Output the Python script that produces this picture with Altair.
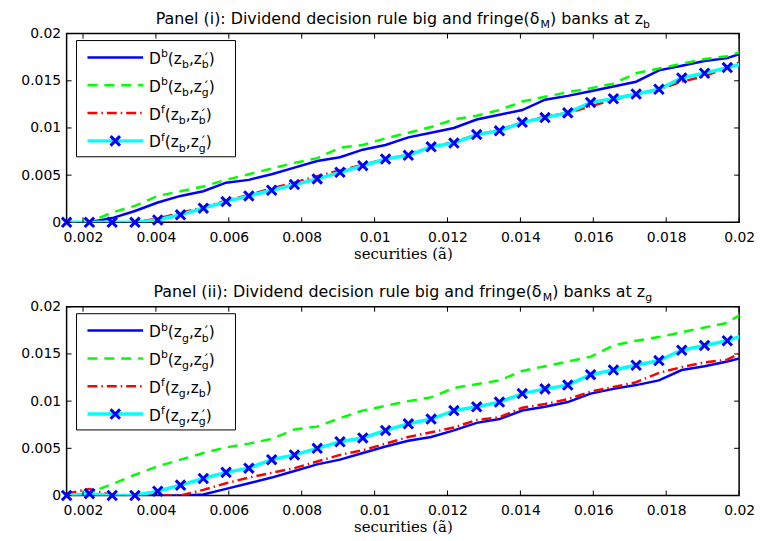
import altair as alt
import pandas as pd

# ---------------- data ----------------
X = [0.00155, 0.002175, 0.0028, 0.003425, 0.00405, 0.004675, 0.0053, 0.005925,
     0.00655, 0.007175, 0.0078, 0.008425, 0.00905, 0.009675, 0.0103, 0.010925,
     0.01155, 0.012175, 0.0128, 0.013425, 0.01405, 0.014675, 0.0153, 0.015925,
     0.01655, 0.017175, 0.0178, 0.018425, 0.01905, 0.019675, 0.0203]

# Panel (i): z_b
P1_DB_B = [0, 0, 0.00045, 0.0012, 0.0021, 0.0028, 0.0033, 0.0042, 0.0045, 0.0051,
           0.0058, 0.0065, 0.0069, 0.0077, 0.0082, 0.0090, 0.0095, 0.0100, 0.0109,
           0.0114, 0.0119, 0.0130, 0.0134, 0.0139, 0.0144, 0.0149, 0.0161, 0.0166,
           0.0171, 0.0174, 0.0182]
P1_DB_G = [0, 0, 0.00105, 0.00175, 0.0028, 0.0033, 0.0038, 0.0045, 0.0051, 0.0057,
           0.0063, 0.0068, 0.0079, 0.0082, 0.0089, 0.0095, 0.0101, 0.0109, 0.0113,
           0.0119, 0.0128, 0.0133, 0.0138, 0.0142, 0.0147, 0.0158, 0.0163, 0.0168,
           0.0173, 0.0176, 0.0184]
P1_DF_B = [0, 0, 0, 0, 0.0004, 0.0010, 0.0016, 0.0023, 0.0029, 0.0036, 0.0042,
           0.0049, 0.0055, 0.0061, 0.0067, 0.0072, 0.0080, 0.0085, 0.0093, 0.0098,
           0.0106, 0.0112, 0.0116, 0.0123, 0.0130, 0.0135, 0.0141, 0.0149, 0.0155,
           0.0164, 0.0174]
P1_DF_G = [0, 0, 0, 0, 0.00025, 0.0008, 0.0015, 0.0022, 0.0028, 0.0034, 0.0040,
           0.0046, 0.0053, 0.0060, 0.0067, 0.0071, 0.0080, 0.0084, 0.0093, 0.0097,
           0.0106, 0.0111, 0.0116, 0.0127, 0.0131, 0.0136, 0.0141, 0.0153, 0.0158,
           0.0164, 0.0170]

# Panel (ii): z_g
P2_DB_B = [0, 0, 0, 0, 0, 0, 0.0001, 0.0007, 0.0013, 0.0019, 0.0026, 0.0033,
           0.0038, 0.0045, 0.0052, 0.0058, 0.0062, 0.0069, 0.0077, 0.0081, 0.0090,
           0.0094, 0.0099, 0.0108, 0.0113, 0.0117, 0.0122, 0.0133, 0.0137, 0.0142,
           0.0148]
P2_DB_G = [0, 0.0003, 0.0012, 0.0022, 0.0031, 0.0038, 0.0045, 0.0051, 0.0055,
           0.0060, 0.0070, 0.0073, 0.0082, 0.0090, 0.0095, 0.0100, 0.0104, 0.0114,
           0.0118, 0.0122, 0.0132, 0.0137, 0.0142, 0.0147, 0.0159, 0.0164, 0.0168,
           0.0173, 0.0178, 0.0183, 0.0198]
P2_DF_B = [0.0002, 0.0007, 0, 0, 0, 0, 0.0006, 0.0013, 0.0019, 0.0024, 0.0029,
           0.0036, 0.0043, 0.0048, 0.0055, 0.0062, 0.0067, 0.0072, 0.0080, 0.0083,
           0.0093, 0.0097, 0.0102, 0.0110, 0.0115, 0.0120, 0.0130, 0.0136, 0.0141,
           0.0144, 0.0156]
P2_DF_G = [0, 0.0002, 0, 0, 0.00045, 0.0011, 0.0018, 0.00245, 0.0029, 0.0038,
           0.0043, 0.0050, 0.0057, 0.0061, 0.0069, 0.0076, 0.0081, 0.0090, 0.0094,
           0.0099, 0.0108, 0.0113, 0.0117, 0.0128, 0.0133, 0.0138, 0.0143, 0.0154,
           0.0159, 0.0164, 0.0172]

X_TICKS = [0.002, 0.004, 0.006, 0.008, 0.01, 0.012, 0.014, 0.016, 0.018, 0.02]
Y_TICKS = [0, 0.005, 0.01, 0.015, 0.02]
X_MIN, X_MAX = 0.00155, 0.02

SERIES = ["dbb", "dbg", "dfb", "dfg"]

TITLE1 = [("Panel (i): Dividend decision rule big and fringe(δ", "n"), ("M", "sub"),
          (") banks at z", "n"), ("b", "sub")]
TITLE2 = [("Panel (ii): Dividend decision rule big and fringe(δ", "n"), ("M", "sub"),
          (") banks at z", "n"), ("g", "sub")]

LEG1 = [
    [("D", "n"), ("b", "sup"), ("(z", "n"), ("b", "sub"), (",z", "n"), ("", "pr"), ("b", "sub"), (")", "n")],
    [("D", "n"), ("b", "sup"), ("(z", "n"), ("b", "sub"), (",z", "n"), ("", "pr"), ("g", "sub"), (")", "n")],
    [("D", "n"), ("f", "sup"), ("(z", "n"), ("b", "sub"), (",z", "n"), ("", "pr"), ("b", "sub"), (")", "n")],
    [("D", "n"), ("f", "sup"), ("(z", "n"), ("b", "sub"), (",z", "n"), ("", "pr"), ("g", "sub"), (")", "n")],
]
LEG2 = [
    [("D", "n"), ("b", "sup"), ("(z", "n"), ("g", "sub"), (",z", "n"), ("", "pr"), ("b", "sub"), (")", "n")],
    [("D", "n"), ("b", "sup"), ("(z", "n"), ("g", "sub"), (",z", "n"), ("", "pr"), ("g", "sub"), (")", "n")],
    [("D", "n"), ("f", "sup"), ("(z", "n"), ("g", "sub"), (",z", "n"), ("b", "sub"), (")", "n")],
    [("D", "n"), ("f", "sup"), ("(z", "n"), ("g", "sub"), (",z", "n"), ("", "pr"), ("g", "sub"), (")", "n")],
]

# ---------------- styling ----------------
W, H = 677, 190
BLUE, GREEN, RED, CYAN = "#0000FF", "#00FF00", "#FF0000", "#00FFFF"
STYLE = {
    "dbb": dict(color=BLUE, strokeWidth=2.5),
    "dbg": dict(color=GREEN, strokeWidth=2.5, strokeDash=[10, 7]),
    "dfb": dict(color=RED, strokeWidth=2.5, strokeDash=[10, 4, 1.5, 4]),
    "dfg": dict(color=CYAN, strokeWidth=3.5),
}
XPATH = "M-1,-1L1,1M-1,1L1,-1"
FONT = "DejaVu Sans"
FS, SFS = 15.5, 11
TFS = 16

WTAB = {' ': 0.318, '(': 0.390, ')': 0.390, ':': 0.337, ',': 0.318, '.': 0.318,
        'P': 0.603, 'D': 0.770, 'M': 0.863, 'a': 0.613, 'b': 0.635, 'c': 0.550,
        'd': 0.635, 'e': 0.615, 'f': 0.352, 'g': 0.635, 'i': 0.278, 'k': 0.579,
        'l': 0.278, 'n': 0.634, 'o': 0.612, 'r': 0.411, 's': 0.521, 't': 0.392,
        'u': 0.634, 'v': 0.592, 'z': 0.525, 'δ': 0.612}


def tw(s, fs):
    return sum(WTAB.get(c, 0.6) for c in s) * fs


def compose(pieces, x0, base, rows, fs=FS, sfs=SFS):
    x = x0
    for txt, kind in pieces:
        if kind == "n":
            rows.append(dict(t=txt, px=x, py=base, fs=fs))
            x += tw(txt, fs)
        elif kind == "sup":
            rows.append(dict(t=txt, px=x, py=base - 6.5, fs=sfs))
            x += tw(txt, sfs)
        elif kind == "sub":
            rows.append(dict(t=txt, px=x, py=base + 4.5, fs=sfs))
            x += tw(txt, sfs)
        elif kind == "pr":
            rows.append(dict(t="´", px=x + 1, py=base - 1, fs=12))
    return x


XS = alt.Scale(domain=[X_MIN, X_MAX], nice=False, zero=False)
YS = alt.Scale(domain=[0, 0.02], nice=False, zero=False)
AX_X = alt.Axis(values=X_TICKS, format="~g", title="securities (ã)", labelFlush=False)
AX_Y = alt.Axis(values=Y_TICKS, format="~g", title=None, labelFlush=False)


def panel(vals, title_pieces, legend):
    df = pd.DataFrame({
        "x": X * 4,
        "v": sum(vals, []),
        "s": sum([[k] * len(X) for k in SERIES], []),
    })
    layers = []
    for k in SERIES:
        layers.append(
            alt.Chart(df).transform_filter(alt.datum.s == k)
            .mark_line(clip=True, **STYLE[k])
            .encode(x=alt.X("x:Q", scale=XS, axis=AX_X),
                    y=alt.Y("v:Q", scale=YS, axis=AX_Y))
        )
    layers.append(
        alt.Chart(df).transform_filter((alt.datum.s == "dfg") & (alt.datum.x <= X_MAX))
        .mark_point(shape=XPATH, filled=False, size=90, strokeWidth=3, color=BLUE, opacity=1)
        .encode(x=alt.X("x:Q", scale=XS, axis=AX_X), y=alt.Y("v:Q", scale=YS, axis=AX_Y))
    )
    # inward ticks on all four sides
    xt = pd.DataFrame({"x": X_TICKS})
    yt = pd.DataFrame({"v": Y_TICKS})
    tk = dict(color="black", strokeWidth=1)
    layers.append(alt.Chart(xt).mark_rule(**tk).encode(
        x=alt.X("x:Q", scale=XS, axis=AX_X), y=alt.value(H), y2=alt.value(H - 5)))
    layers.append(alt.Chart(xt).mark_rule(**tk).encode(
        x=alt.X("x:Q", scale=XS, axis=AX_X), y=alt.value(0), y2=alt.value(5)))
    layers.append(alt.Chart(yt).mark_rule(**tk).encode(
        y=alt.Y("v:Q", scale=YS, axis=AX_Y), x=alt.value(0), x2=alt.value(5)))
    layers.append(alt.Chart(yt).mark_rule(**tk).encode(
        y=alt.Y("v:Q", scale=YS, axis=AX_Y), x=alt.value(W - 5), x2=alt.value(W)))

    # legend box
    one = pd.DataFrame({"a": [0]})
    layers.append(alt.Chart(one).mark_rect(fill="white", stroke="black", strokeWidth=1).encode(
        x=alt.value(10), x2=alt.value(170), y=alt.value(7), y2=alt.value(124)))
    ys = [24, 52, 80, 108]
    for k, yy in zip(SERIES, ys):
        layers.append(alt.Chart(one).mark_rule(**STYLE[k]).encode(
            x=alt.value(21), x2=alt.value(77), y=alt.value(yy)))
    layers.append(alt.Chart(one).mark_point(shape=XPATH, filled=False, size=90, strokeWidth=3,
                                            color=BLUE, opacity=1).encode(
        x=alt.value(49), y=alt.value(ys[3])))

    rows = []
    for pieces, yy in zip(legend, ys):
        compose(pieces, 83, yy + 6.5, rows)
    # title (centred on the plot)
    tot = compose(title_pieces, 0, 0, [], fs=TFS)
    compose(title_pieces, W / 2 - tot / 2, -10, rows, fs=TFS)
    tdf = pd.DataFrame(rows)
    layers.append(alt.Chart(tdf).mark_text(align="left", baseline="alphabetic", font=FONT,
                                           color="black").encode(
        x=alt.X("px:Q", scale=None, axis=None),
        y=alt.Y("py:Q", scale=None, axis=None),
        text="t:N",
        size=alt.Size("fs:Q", scale=None, legend=None)))
    return alt.layer(*layers).properties(width=W, height=H)


p1 = panel([P1_DB_B, P1_DB_G, P1_DF_B, P1_DF_G], TITLE1, LEG1)
p2 = panel([P2_DB_B, P2_DB_G, P2_DF_B, P2_DF_G], TITLE2, LEG2)

chart = (
    alt.vconcat(p1, p2, spacing=21)
    .properties(padding={"left": 12, "top": 0, "right": 0, "bottom": 0})
    .configure_view(stroke="black", strokeWidth=1.5)
    .configure_axis(labelFont=FONT, labelFontSize=14, labelColor="black", domain=False,
                    ticks=False, tickSize=0, grid=False, titleFont="DejaVu Serif",
                    titleFontSize=15, titleFontWeight="normal", titleColor="black")
    .configure_axisX(labelPadding=8, titlePadding=2)
    .configure_axisY(labelPadding=6)
)

chart.save("out.html", embed_options={"renderer": "svg", "actions": False})
